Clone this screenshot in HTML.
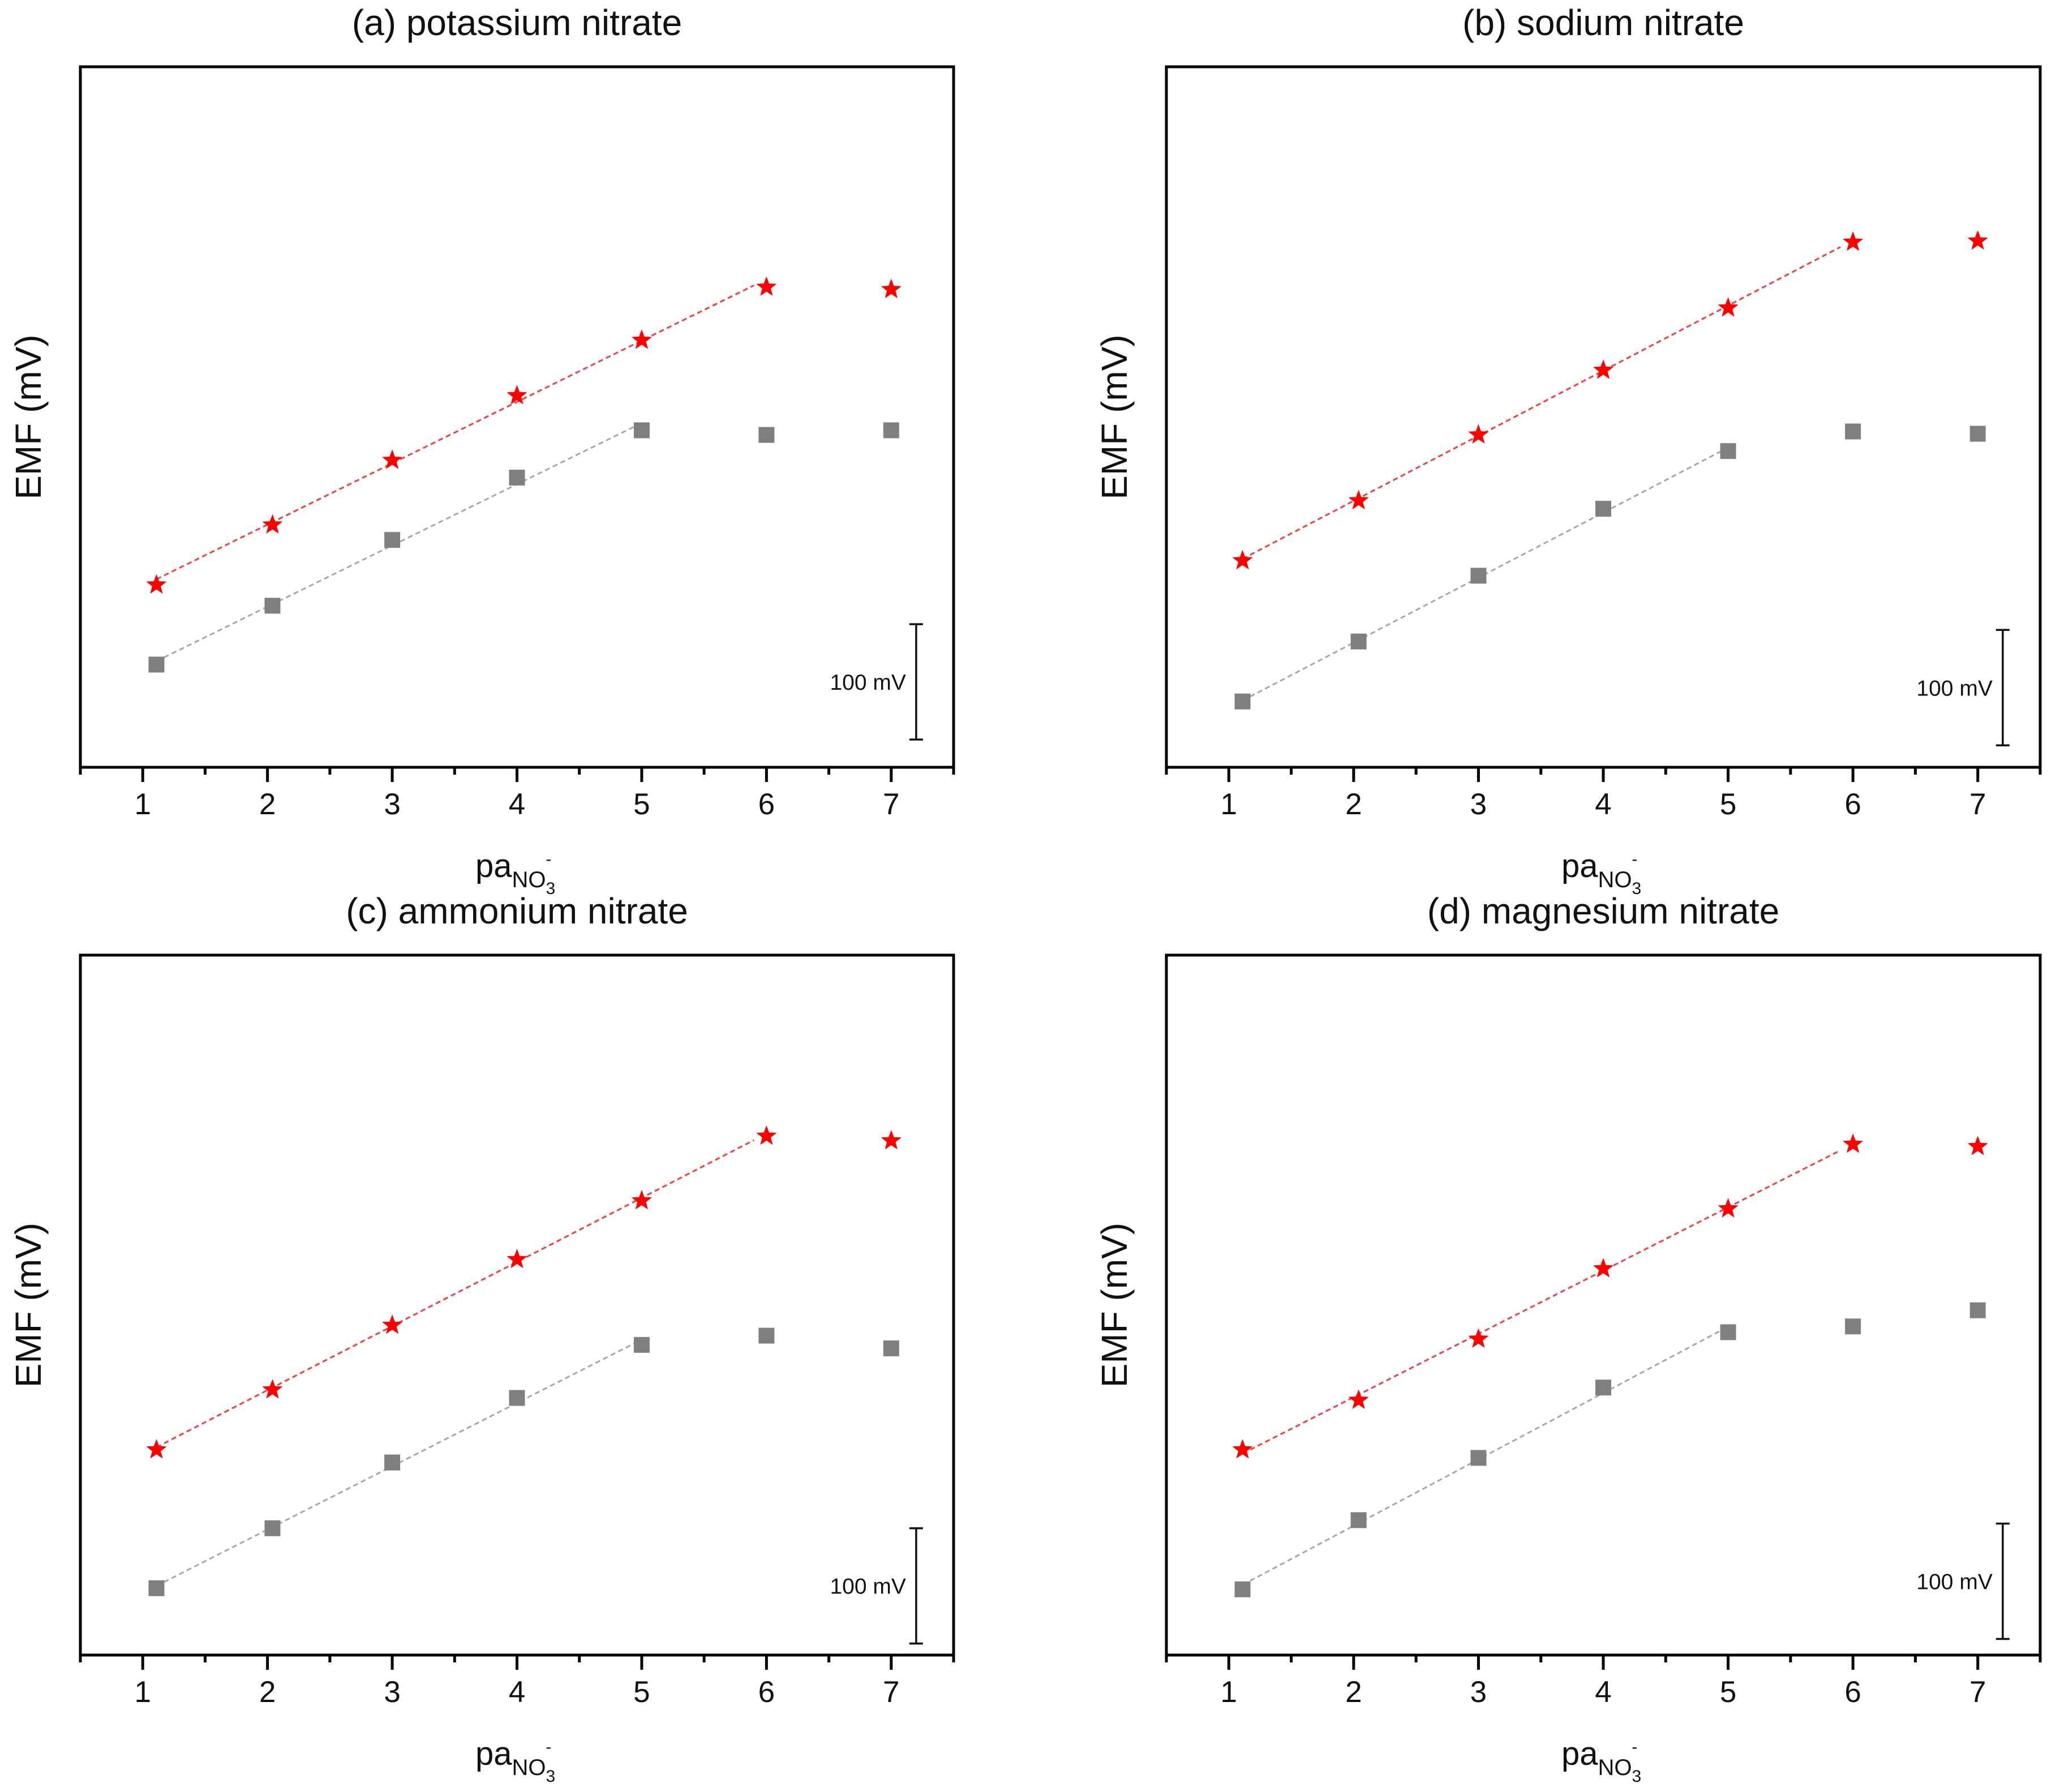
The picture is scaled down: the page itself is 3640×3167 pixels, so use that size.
<!DOCTYPE html>
<html><head><meta charset="utf-8">
<style>
html,body{margin:0;padding:0;background:#fff;}
svg{display:block;font-family:"Liberation Sans",Arial,sans-serif;}
</style></head>
<body>
<svg id="fig" width="3640" height="3167" viewBox="0 0 3640 3167" xmlns="http://www.w3.org/2000/svg"></svg>
<script>
// ---- data ----
const xTicks = [1, 2, 3, 4, 5, 6, 7];
const xVals = [1.11, 2.04, 3, 4, 5, 6, 7];
const panelTitles = ["(a) potassium nitrate", "(b) sodium nitrate", "(c) ammonium nitrate", "(d) magnesium nitrate"];
const starsA = [159, 211, 267, 323, 371, 417, 415];
const squaresA = [89, 140, 197, 251, 292, 288, 292];
const starsB = [180, 232, 289, 345, 399, 456, 457];
const squaresB = [57, 109, 166, 224, 274, 291, 289];
const starsC = [179, 231, 287, 344, 395, 451, 447];
const squaresC = [58, 110, 167, 223, 269, 277, 266];
const starsD = [179, 222, 275, 336, 388, 444, 442];
const squaresD = [57, 117, 171, 232, 280, 285, 299];
const scaleBarBase = [24, 19, 10, 14];
const scaleBarSize = 100;
const scaleBarX = 7.2;
const starFitCount = 6;
const squareFitCount = 5;

const NS = "http://www.w3.org/2000/svg";
const svg = document.getElementById("fig");
function mk(tag, attrs, parent) {
  const e = document.createElementNS(NS, tag);
  for (const k in attrs) e.setAttribute(k, attrs[k]);
  (parent || svg).appendChild(e);
  return e;
}

const panels = [
  {x0:142, x1:1685, y0:118, y1:1356, stars:starsA, squares:squaresA},
  {x0:2061, x1:3605, y0:118, y1:1356, stars:starsB, squares:squaresB},
  {x0:142, x1:1685, y0:1688, y1:2925, stars:starsC, squares:squaresC},
  {x0:2061, x1:3605, y0:1688, y1:2925, stars:starsD, squares:squaresD}
];

function fitLine(xs, ys) {
  const n = xs.length;
  let sx=0, sy=0, sxx=0, sxy=0;
  for (let i=0;i<n;i++){sx+=xs[i];sy+=ys[i];sxx+=xs[i]*xs[i];sxy+=xs[i]*ys[i];}
  const b=(n*sxy-sx*sy)/(n*sxx-sx*sx);
  const a=(sy-b*sx)/n;
  return [a,b];
}

function starPath(cx, cy, R) {
  const r = R*0.42;
  let d = "";
  for (let i=0;i<10;i++){
    const ang = -Math.PI/2 + i*Math.PI/5;
    const rr = i%2===0 ? R : r;
    d += (i===0?"M":"L") + (cx+rr*Math.cos(ang)).toFixed(1) + " " + (cy+rr*Math.sin(ang)).toFixed(1);
  }
  return d + "Z";
}

panels.forEach((p, pi) => {
  const g = mk("g", {});
  
  
  const xS = v => p.x0 + (v - 0.5) / 7 * (p.x1 - p.x0);
  const yS = v => p.y1 - v / 607 * (p.y1 - p.y0);
  const cx = (p.x0 + p.x1) / 2;

  const t = mk("text", {x:cx, y:p.y0-56, "text-anchor":"middle", "font-size":64, fill:"#111"}, g);
  t.textContent = panelTitles[pi];
  
  

  const frame = mk("rect", {x:p.x0, y:p.y0, width:p.x1-p.x0, height:p.y1-p.y0, fill:"none", stroke:"#000", "stroke-width":5}, g);
  
  

  for (let v = 0.5; v <= 7.51; v += 0.5) {
    const major = Math.abs(v - Math.round(v)) < 1e-6;
    const tk = mk("line", {x1:xS(v), x2:xS(v), y1:p.y1, y2:p.y1 + (major ? 26 : 13), stroke:"#000", "stroke-width":5}, g);
    
    
  }
  xTicks.forEach(v => {
    const tl = mk("text", {x:xS(v), y:p.y1+83, "text-anchor":"middle", "font-size":53, fill:"#111"}, g);
    tl.textContent = v;
    
    
  });

  const yt = mk("text", {x:0, y:0, "text-anchor":"middle", "font-size":64, fill:"#111",
    transform:`translate(${p.x0-70},${(p.y0+p.y1)/2}) rotate(-90)`}, g);
  yt.textContent = "EMF (mV)";
  
  

  const xt = mk("text", {x:p.x0+698, y:p.y1+194, "font-size":58, fill:"#111"}, g);
  
  
  const s1 = mk("tspan", {}, xt); s1.textContent = "pa";
  const s2 = mk("tspan", {dy:18, "font-size":40}, xt); s2.textContent = "NO";
  const s3 = mk("tspan", {dy:12, "font-size":30}, xt); s3.textContent = "3";
  const s4 = mk("tspan", {dx:-17, dy:-52, "font-size":30}, xt); s4.textContent = "-";

  const sqFit = fitLine(xVals.slice(0, squareFitCount), p.squares.slice(0, squareFitCount));
  const stFit = fitLine(xVals.slice(0, starFitCount), p.stars.slice(0, starFitCount));
  const xa = xVals[0], xb1 = xVals[squareFitCount-1], xb2 = xVals[starFitCount-1] - 0.1;
  const l1 = mk("line", {x1:xS(xa), y1:yS(sqFit[0]+sqFit[1]*xa), x2:xS(xb1-0.05), y2:yS(sqFit[0]+sqFit[1]*(xb1-0.05)),
    stroke:"#a8a8a8", "stroke-width":3, "stroke-dasharray":"9 6"}, g);
  
  
  const l2 = mk("line", {x1:xS(xa), y1:yS(stFit[0]+stFit[1]*xa), x2:xS(xb2), y2:yS(stFit[0]+stFit[1]*xb2),
    stroke:"#f04040", "stroke-width":3, "stroke-dasharray":"9 6"}, g);
  
  

  p.squares.forEach((v, i) => {
    const r = mk("rect", {x:xS(xVals[i])-14, y:yS(v)-14, width:28, height:28, fill:"#7f7f7f"}, g);
    
    
  });
  p.stars.forEach((v, i) => {
    const s = mk("path", {d:starPath(xS(xVals[i]), yS(v)+2, 19), fill:"#ff0000"}, g);
    
    
  });

  const sbx = xS(scaleBarX), sb0 = yS(scaleBarBase[pi]), sb1 = yS(scaleBarBase[pi] + scaleBarSize);
  const sb = mk("path", {d:`M${sbx},${sb1}V${sb0}M${sbx-12},${sb1}H${sbx+12}M${sbx-12},${sb0}H${sbx+12}`, stroke:"#111", "stroke-width":3.5, fill:"none"}, g);
  
  
  const sbt = mk("text", {x:sbx-18, y:(sb0+sb1)/2+14, "text-anchor":"end", "font-size":39, fill:"#111"}, g);
  sbt.textContent = scaleBarSize + " mV";
  
  
});
</script>
</body></html>
